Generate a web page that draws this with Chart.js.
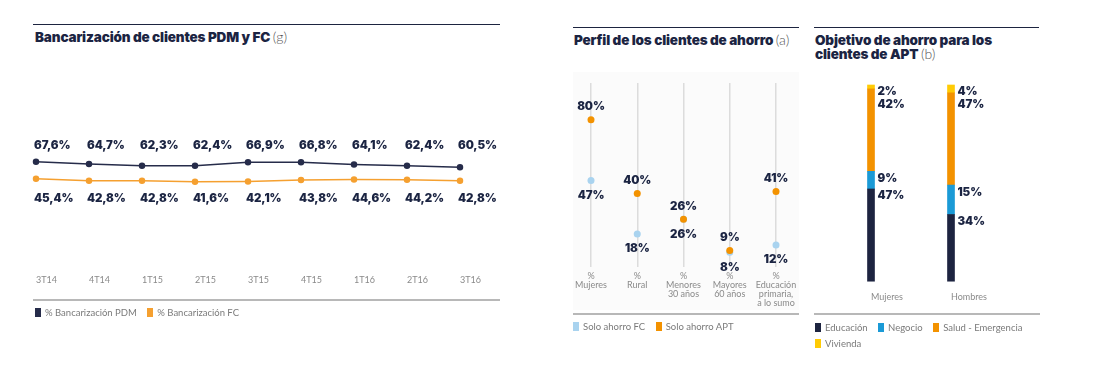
<!DOCTYPE html>
<html>
<head>
<meta charset="utf-8">
<script src="https://cdn.jsdelivr.net/npm/chart.js@4"></script>
<style>
  body { margin: 0; width: 1112px; height: 384px; background: #fff; position: relative; overflow: hidden; font-family: Lato, "Open Sans", sans-serif; }
  .rule { position: absolute; height: 0; border-top: 1px solid #1d2440; }
  .base { position: absolute; height: 0; border-top: 2px solid #b8b8b8; }
  .title { position: absolute; font-family: Inter, Roboto, sans-serif; font-weight: 900; font-size: 13.5px; line-height: 14px; color: #1b2442; letter-spacing: -0.15px; white-space: nowrap; }
  .title span { font-family: Lato, sans-serif; font-weight: 300; font-size: 14px; color: #555; letter-spacing: 0; }
  .legend { position: absolute; font-size: 9.5px; line-height: 16px; color: #7a7a7a; white-space: nowrap; }
  .legend b { font-weight: 400; margin-right: 8px; }
  .legend i { display: inline-block; width: 6px; height: 9px; margin-right: 4px; vertical-align: -1px; }
  .panel { position: absolute; background: #fbfbfb; }
  canvas { position: absolute; }
</style>
</head>
<body>

<div class="rule" style="left:33px;top:24px;width:467px"></div>
<div class="title" style="left:35px;top:30px">Bancarización de clientes PDM y FC <span>(g)</span></div>
<canvas id="lineChart" width="510" height="220" style="left:0;top:80px"></canvas>
<div class="base" style="left:33px;top:299px;width:467px"></div>
<div class="legend" style="left:35px;top:305px">
  <b><i style="background:#262c4a"></i>% Bancarización PDM</b>
  <b><i style="background:#f5a030"></i>% Bancarización FC</b>
</div>

<div class="rule" style="left:573px;top:27px;width:226px"></div>
<div class="title" style="left:574px;top:33px">Perfil de los clientes de ahorro <span>(a)</span></div>
<div class="panel" style="left:573px;top:72px;width:226px;height:238px"></div>
<canvas id="dotChart" width="240" height="240" style="left:565px;top:75px"></canvas>
<div class="base" style="left:573px;top:313px;width:226px"></div>
<div class="legend" style="left:573px;top:319px">
  <b><i style="background:#a9d3ef"></i>Solo ahorro FC</b>
  <b><i style="background:#f39200"></i>Solo ahorro APT</b>
</div>

<div class="rule" style="left:814px;top:27px;width:225px"></div>
<div class="title" style="left:815px;top:33px">Objetivo de ahorro para los<br>clientes de APT <span>(b)</span></div>
<canvas id="barChart" width="230" height="240" style="left:815px;top:75px"></canvas>
<div class="base" style="left:814px;top:313px;width:226px"></div>
<div class="legend" style="left:815px;top:320px">
  <b><i style="background:#1d2440"></i>Educación</b>
  <b><i style="background:#1b9ad6"></i>Negocio</b>
  <b><i style="background:#f39200"></i>Salud - Emergencia</b><br>
  <b><i style="background:#ffcb05"></i>Vivienda</b>
</div>

<script>
const navy = '#262c4a';
const orange = '#f5a030';

// Bancarización
const quarters = ['3T14', '4T14', '1T15', '2T15', '3T15', '4T15', '1T16', '2T16', '3T16'];
const pdm = [67.6, 64.7, 62.3, 62.4, 66.9, 66.8, 64.1, 62.4, 60.5];
const fc = [45.4, 42.8, 42.8, 41.6, 42.1, 43.8, 44.6, 44.2, 42.8];

// Perfil de los clientes de ahorro
const profileCats = [
  ['%', 'Mujeres'],
  ['%', 'Rural'],
  ['%', 'Menores', '30 años'],
  ['%', 'Mayores', '60 años'],
  ['%', 'Educación', 'primaria,', 'a lo sumo']
];
const soloFC = [47, 18, 26, 8, 12];
const soloAPT = [80, 40, 26, 9, 41];

// Objetivo de ahorro
const genders = ['Mujeres', 'Hombres'];
const educacion = [47, 34];
const negocio = [9, 15];
const salud = [42, 47];
const vivienda = [2, 4];

const labelFont = '900 11.5px Inter, Roboto, sans-serif';
const tickFont = { family: 'Lato', size: 9, lineHeight: 1 };

function pct1(v) {
  return v.toFixed(1).replace('.', ',') + '%';
}

function labelStyle(ctx, align) {
  ctx.font = labelFont;
  ctx.letterSpacing = '-0.1px';
  ctx.fillStyle = '#1b2442';
  ctx.textAlign = align;
  ctx.textBaseline = 'middle';
}

// labels in one row above PDM and one row below FC
const lineLabels = {
  id: 'lineLabels',
  afterDatasetsDraw(chart) {
    const ctx = chart.ctx;
    const top = chart.getDatasetMeta(0).data;
    const bottom = chart.getDatasetMeta(1).data;
    const topY = Math.min(...top.map(p => p.y)) - 16;
    const bottomY = Math.max(...bottom.map(p => p.y)) + 17;
    ctx.save();
    labelStyle(ctx, 'left');
    top.forEach((p, i) => ctx.fillText(pct1(pdm[i]), p.x - 2, topY));
    bottom.forEach((p, i) => ctx.fillText(pct1(fc[i]), p.x - 2, bottomY));
    ctx.restore();
  }
};

const dotLabels = {
  id: 'dotLabels',
  afterDatasetsDraw(chart) {
    const ctx = chart.ctx;
    ctx.save();
    labelStyle(ctx, 'center');
    chart.getDatasetMeta(0).data.forEach((p, i) => ctx.fillText(soloAPT[i] + '%', p.x, p.y - 13));
    chart.getDatasetMeta(1).data.forEach((p, i) => ctx.fillText(soloFC[i] + '%', p.x, p.y + 15));
    ctx.restore();
  }
};

// labels to the right of each segment, pushed down when they would overlap
const stackLabels = {
  id: 'stackLabels',
  afterDatasetsDraw(chart) {
    const ctx = chart.ctx;
    ctx.save();
    labelStyle(ctx, 'left');
    genders.forEach((g, i) => {
      let last = -Infinity;
      for (let d = chart.data.datasets.length - 1; d >= 0; d--) {
        const bar = chart.getDatasetMeta(d).data[i];
        const y = Math.max(bar.y + 7, last + 13);
        ctx.fillText(chart.data.datasets[d].data[i] + '%', bar.x + bar.width / 2 + 3, y);
        last = y;
      }
    });
    ctx.restore();
  }
};

new Chart(document.getElementById('lineChart'), {
  type: 'line',
  data: {
    labels: quarters,
    datasets: [
      { label: '% Bancarización PDM', data: pdm, borderColor: navy, backgroundColor: navy, borderWidth: 1.5, pointRadius: 2.5, tension: 0 },
      { label: '% Bancarización FC', data: fc, borderColor: orange, backgroundColor: orange, borderWidth: 1.5, pointRadius: 2.5, tension: 0 }
    ]
  },
  options: {
    responsive: false,
    animation: false,
    events: [],
    layout: { padding: { left: 36, right: 50, top: 18, bottom: 7 } },
    plugins: { legend: { display: false }, tooltip: { enabled: false } },
    scales: {
      x: {
        offset: false,
        grid: { display: false, drawTicks: false },
        border: { display: false },
        ticks: { align: 'start', padding: 8, color: '#8a8a8a', autoSkip: false, maxRotation: 0, font: tickFont }
      },
      y: { display: false, min: -70, max: 150 }
    }
  },
  plugins: [lineLabels]
});

new Chart(document.getElementById('dotChart'), {
  type: 'line',
  data: {
    labels: profileCats,
    datasets: [
      { label: 'Solo ahorro APT', data: soloAPT, showLine: false, pointRadius: 3.5, pointBackgroundColor: '#f39200', pointBorderWidth: 0 },
      { label: 'Solo ahorro FC', data: soloFC, showLine: false, pointRadius: 3.5, pointBackgroundColor: '#a9d3ef', pointBorderWidth: 0 }
    ]
  },
  options: {
    responsive: false,
    animation: false,
    events: [],
    layout: { padding: { left: 26, right: 29, top: 8, bottom: 2 } },
    plugins: { legend: { display: false }, tooltip: { enabled: false } },
    scales: {
      x: {
        offset: false,
        grid: { color: '#dcdcdc', lineWidth: 1.5, drawTicks: false },
        border: { display: false },
        ticks: { padding: 5, color: '#8a8a8a', autoSkip: false, maxRotation: 0, font: tickFont }
      },
      y: { display: false, min: 0, max: 100 }
    }
  },
  plugins: [dotLabels]
});

new Chart(document.getElementById('barChart'), {
  type: 'bar',
  data: {
    labels: genders,
    datasets: [
      { label: 'Educación', data: educacion, backgroundColor: '#1d2440' },
      { label: 'Negocio', data: negocio, backgroundColor: '#1b9ad6' },
      { label: 'Salud - Emergencia', data: salud, backgroundColor: '#f39200' },
      { label: 'Vivienda', data: vivienda, backgroundColor: '#ffcb05' }
    ]
  },
  options: {
    responsive: false,
    animation: false,
    events: [],
    barThickness: 7,
    clip: false,
    layout: { padding: { left: 56, right: 94, top: 10, bottom: 3 } },
    plugins: { legend: { display: false }, tooltip: { enabled: false } },
    scales: {
      x: {
        stacked: true,
        offset: false,
        grid: { display: false, drawTicks: false },
        border: { display: false },
        ticks: { align: 'start', padding: 10, color: '#8a8a8a', autoSkip: false, maxRotation: 0, font: { family: 'Lato', size: 9 } }
      },
      y: { stacked: true, display: false, min: 0, max: 100 }
    }
  },
  plugins: [stackLabels]
});
</script>
</body>
</html>
